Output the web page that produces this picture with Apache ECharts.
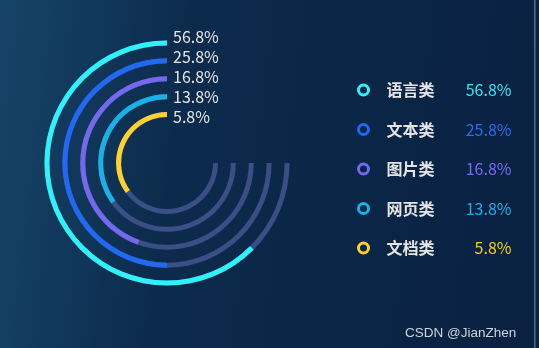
<!DOCTYPE html>
<html>
<head>
<meta charset="utf-8">
<script src="https://cdn.jsdelivr.net/npm/echarts@6/dist/echarts.min.js"></script>
<style>html,body{margin:0;padding:0;}#main{width:539px;height:348px;}</style>
</head>
<body>
<div id="main"></div>
<script>
// data (outer ring first)
const categories = ['语言类', '文本类', '图片类', '网页类', '文档类'];
const percentLabels = ['56.8%', '25.8%', '16.8%', '13.8%', '5.8%'];
const arcValues = [62.5, 50, 44.5, 35, 35]; // arc length as % of full circle
const trackValues = [75, 75, 75, 75, 75];
const colors = ['#2ef2f7', '#2168f2', '#7468ef', '#19b2e6', '#ffd12e'];
const valueColors = ['#35e8f0', '#2a6ef0', '#7a6cf0', '#1cb0e6', '#f5d020'];

const chart = echarts.init(document.getElementById('main'));
const n = categories.length;
const radiusCats = categories.slice().reverse();
const radiusLabels = percentLabels.slice().reverse();
const FONT = '"Noto Sans CJK SC", "Noto Sans", sans-serif';

const series = [{
  type: 'bar', coordinateSystem: 'polar', polarIndex: 0, clip: false,
  data: trackValues, barWidth: 5, barGap: '-100%', silent: true, z: 1,
  itemStyle: { color: '#3a4f86' }
}];
categories.forEach((c, i) => {
  const d = new Array(n).fill(0);
  d[n - 1 - i] = arcValues[i];
  series.push({
    name: c, type: 'bar', coordinateSystem: 'polar', polarIndex: 0, clip: false,
    stack: 'arcs',
    data: d, barWidth: 5, barGap: '-100%', z: 2,
    itemStyle: { color: colors[i] }
  });
});

const rich = { g: { width: 13 }, name: { width: 77, fontSize: 16, fontWeight: 'bold', color: '#e4e4e4', fontFamily: FONT, lineHeight: 16 } };
valueColors.forEach((c, i) => {
  rich['v' + i] = { width: 48, align: 'right', fontSize: 16, color: c, fontFamily: FONT, lineHeight: 16 };
});

chart.setOption({
  animation: false,
  backgroundColor: {
    type: 'linear', x: 0, y: 0, x2: 1, y2: 0.2,
    colorStops: [
      { offset: 0, color: '#164469' },
      { offset: 0.35, color: '#0c2b4c' },
      { offset: 1, color: '#0a2142' }
    ]
  },
  polar: [
    { center: [167, 163], radius: [39.5, 129] },
    { center: [167, 163], radius: [36, 136] }
  ],
  angleAxis: [
    { polarIndex: 0, min: 0, max: 100, startAngle: 90, clockwise: false, show: false },
    { polarIndex: 1, min: 0, max: 100, startAngle: 90, clockwise: false, show: false }
  ],
  radiusAxis: [
    { polarIndex: 0, type: 'category', data: radiusCats, show: false },
    {
      polarIndex: 1, type: 'category', data: radiusLabels, z: 10,
      axisLine: { show: false }, axisTick: { show: false }, splitLine: { show: false },
      axisLabel: { show: true, interval: 0, margin: -6, align: 'left', color: '#e6e6e6', fontSize: 16, fontFamily: FONT }
    }
  ],
  legend: {
    orient: 'vertical', left: 357, top: 82, padding: 0,
    itemWidth: 10, itemHeight: 10, itemGap: 23.5,
    icon: 'circle',
    data: categories.map((c, i) => ({
      name: c,
      itemStyle: { color: 'transparent', borderColor: colors[i], borderWidth: 3 }
    })),
    textStyle: { rich: rich },
    formatter: function (name) {
      const i = categories.indexOf(name);
      return '{g|}{name|' + name + '}{v' + i + '|' + percentLabels[i] + '}';
    }
  },
  graphic: [
    { type: 'text', left: 405, top: 326, style: { text: 'CSDN @JianZhen', fill: '#cfd3da', font: '13.5px "Liberation Sans", Arial, sans-serif' } },
    { type: 'rect', left: 534, top: 0, shape: { width: 1.5, height: 348 }, style: { fill: 'rgba(190,200,215,0.45)' } }
  ],
  series: series
});
</script>
</body>
</html>
